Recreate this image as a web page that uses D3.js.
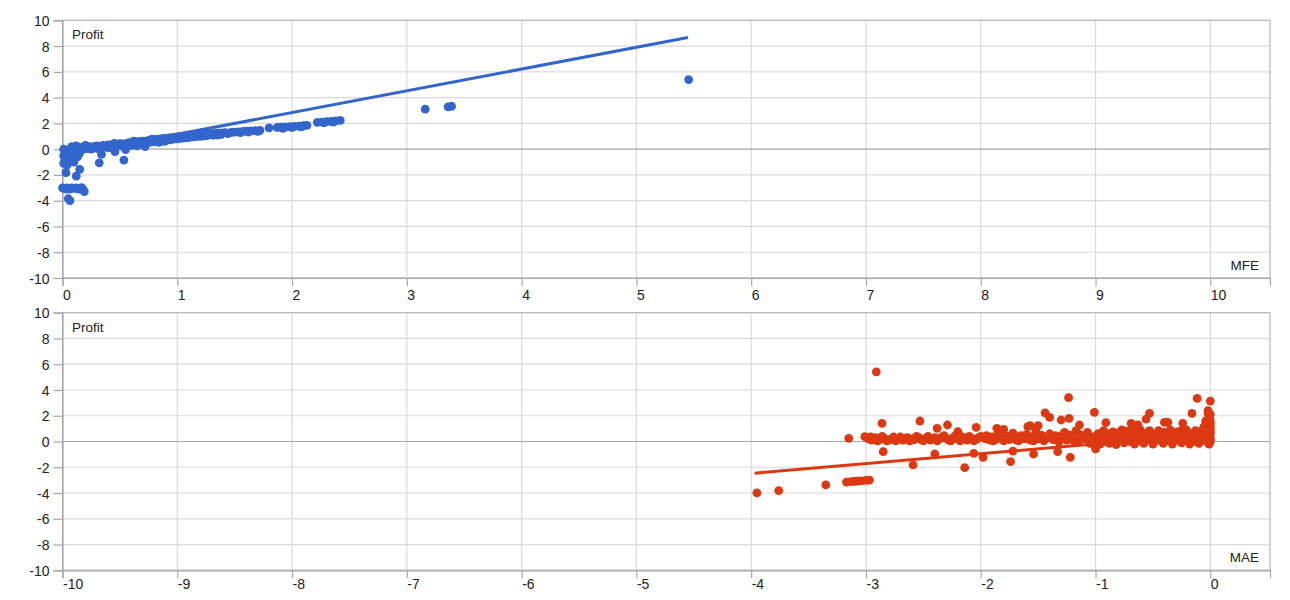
<!DOCTYPE html>
<html>
<head>
<meta charset="utf-8">
<script src="https://cdn.jsdelivr.net/npm/d3@7"></script>
<style>
  html, body { margin: 0; padding: 0; background: #fff; }
  svg { display: block; font-family: "Liberation Sans", Arial, sans-serif; }
</style>
</head>
<body>
<svg id="chart" width="1290" height="600"></svg>
<script>
// ---------------- DATA ----------------
const yTicks = [-10, -8, -6, -4, -2, 0, 2, 4, 6, 8, 10];
const mfeTicks = [0, 1, 2, 3, 4, 5, 6, 7, 8, 9, 10];
const maeTicks = [-10, -9, -8, -7, -6, -5, -4, -3, -2, -1, 0];
const yLabel = "Profit";
const mfeLabel = "MFE";
const maeLabel = "MAE";

// [MFE, Profit]
const mfePoints = [
  [0.01,0.0],[0.02,-0.1],[0.03,-0.3],[0.01,-0.5],[0.02,-0.7],[0.03,-0.9],[0.01,-1.1],[0.04,-1.25],
  [0.06,-0.6],[0.05,-0.2],[0.08,-0.4],[0.09,-0.8],[0.1,-1.0],[0.07,0.05],[0.1,0.1],[0.12,-0.2],
  [0.13,-0.6],[0.15,-0.3],[0.03,-1.83],[0.12,-2.1],[0.15,-1.57],[0.32,-1.06],[0.535,-0.85],
  [0.34,-0.41],[0.457,-0.2],[0.55,-0.03],
  [0.0,-3.0],[0.02,-3.05],[0.04,-3.0],[0.06,-3.1],[0.08,-3.0],[0.1,-3.05],[0.12,-3.0],[0.14,-3.1],
  [0.16,-3.0],[0.18,-3.15],[0.19,-3.3],[0.17,-3.0],[0.05,-3.85],[0.065,-4.0],[0.03,-3.1],
  [0.15,0.12],[0.18,0.15],[0.2,0.1],[0.22,0.2],[0.25,0.18],[0.28,0.22],[0.3,0.25],[0.32,0.2],
  [0.35,0.3],[0.38,0.28],[0.4,0.33],[0.43,0.3],[0.46,0.38],[0.48,0.35],[0.5,0.42],[0.53,0.4],
  [0.56,0.45],[0.58,0.5],[0.61,0.52],[0.64,0.56],[0.67,0.6],[0.7,0.63],[0.72,0.6],[0.75,0.68],
  [0.78,0.71],[0.8,0.74],[0.83,0.77],[0.86,0.8],[0.88,0.83],[0.91,0.86],[0.94,0.89],[0.97,0.92],
  [1.0,0.95],[1.03,0.98],[1.06,1.0],[1.09,1.03],[1.12,1.06],[1.15,1.09],[1.18,1.11],[1.21,1.14],
  [1.24,1.16],[1.27,1.18],[1.3,1.2],[1.33,1.22],[1.36,1.24],[1.39,1.26],[1.42,1.28],
  [0.25,0.0],[0.3,0.05],[0.4,0.1],[0.45,0.15],[0.6,0.3],[0.65,0.25],[0.7,0.4],[0.72,0.2],
  [0.85,0.62],[0.9,0.68],[1.0,0.8],[1.1,0.9],[1.2,1.0],[0.2,0.3],[0.12,0.25],[0.08,0.2],
  [0.23,0.05],[0.27,0.1],[0.33,0.12],[0.37,0.18],[0.42,0.2],[0.47,0.22],[0.51,0.26],[0.55,0.3],
  [0.59,0.36],[0.63,0.4],[0.68,0.45],[0.74,0.5],[0.77,0.55],[0.81,0.58],[0.84,0.52],[0.89,0.6],
  [0.93,0.72],[0.96,0.76],[1.02,0.84],[1.05,0.86],[1.08,0.9],[1.13,0.95],[1.16,0.97],[1.23,1.02],
  [1.26,1.05],[1.31,1.08],[1.35,1.1],[1.38,1.13],[1.44,1.2],[0.45,0.45],[0.62,0.62],[0.78,0.78],
  [1.47,1.3],[1.5,1.32],[1.53,1.34],[1.57,1.37],[1.6,1.39],[1.64,1.41],[1.68,1.43],[1.72,1.45],
  [1.55,1.28],[1.62,1.33],[1.7,1.38],
  [1.8,1.65],[1.87,1.68],[1.9,1.7],[1.94,1.72],[1.98,1.74],[2.02,1.76],[2.06,1.79],[2.1,1.82],
  [2.13,1.85],[1.92,1.62],[2.0,1.68],[2.08,1.73],
  [2.22,2.08],[2.26,2.1],[2.3,2.13],[2.34,2.16],[2.38,2.2],[2.42,2.23],[2.28,2.05],[2.36,2.1],
  [3.16,3.1],[3.36,3.28],[3.39,3.33],[5.455,5.4]
];
const mfeTrend = [[0, -0.53], [5.45, 8.66]];

// [MAE, Profit]
const maePoints = [
  [-3.95,-3.99],[-3.76,-3.81],[-3.35,-3.37],[-3.17,-3.15],[-3.13,-3.12],[-3.1,-3.1],[-3.07,-3.08],
  [-3.04,-3.05],[-3.0,-3.02],[-2.97,-3.0],[-3.15,0.25],[-2.91,5.41],[-2.86,1.41],[-2.85,-0.79],[-3.01,0.37],
  [-2.98,0.2],[-2.95,0.1],[-2.92,0.3],[-2.88,0.15],[-2.84,0.25],[-2.8,0.1],[-2.76,0.35],[-2.72,0.2],
  [-2.68,0.1],[-2.64,0.3],[-2.6,0.2],[-2.56,0.4],[-2.52,0.15],[-2.48,0.25],[-2.44,0.1],[-2.4,0.3],
  [-2.36,0.2],[-2.32,0.45],[-2.28,0.1],[-2.24,0.3],[-2.2,0.2],[-2.16,0.35],[-2.12,0.1],[-2.08,0.25],
  [-2.04,0.15],[-2.0,0.4],
  [-2.96,0.35],[-2.9,0.05],[-2.86,0.4],[-2.82,0.05],[-2.78,0.2],[-2.74,0.05],[-2.7,0.35],[-2.66,0.25],
  [-2.62,0.05],[-2.58,0.15],[-2.54,0.3],[-2.5,0.05],[-2.46,0.4],[-2.42,0.2],[-2.38,0.05],[-2.34,0.35],
  [-2.3,0.25],[-2.26,0.05],[-2.22,0.45],[-2.18,0.05],[-2.14,0.25],[-2.1,0.4],[-2.06,0.05],[-2.02,0.3],
  [-2.59,-1.82],[-2.53,1.59],[-2.40,-0.97],[-2.38,1.02],[-2.29,1.28],[-2.14,-2.03],[-2.2,0.76],
  [-2.04,1.1],[-2.06,-0.92],[-1.98,-1.23],[-1.72,-0.74],[-1.74,-1.56],[-1.86,1.02],[-1.80,0.94],[-1.59,1.15],
  [-1.44,2.23],[-1.40,1.87],[-1.235,3.40],[-1.23,1.80],[-1.30,1.67],[-1.22,-1.23],[-1.33,-0.79],
  [-1.54,-0.97],[-1.57,1.23],[-1.50,1.23],[-1.14,1.28],[-1.01,2.26],[-0.91,1.46],[-1.00,-0.58],
  [-0.69,1.41],[-0.63,1.28],[-0.53,2.18],[-0.56,1.74],[-0.40,1.49],[-0.37,1.49],[-0.24,1.41],
  [-0.16,2.18],[-0.115,3.35],[0.0,3.14],[-0.02,2.4],[0.0,2.1],[-0.01,1.8],[-0.03,1.5],[0.0,1.2],
  [0.0,1.4],[0.0,1.65],[-0.01,1.95],[-0.02,2.2],[-0.03,1.3],[-0.05,1.2],[-0.04,1.6],[-0.06,1.05],
  [-1.96,0.2],[-1.95,0.45],[-1.92,0.1],[-1.9,0.35],[-1.87,0.15],[-1.85,0.55],[-1.82,0.25],[-1.8,0.05],
  [-1.77,0.4],[-1.75,0.15],[-1.72,0.65],[-1.7,0.3],[-1.67,0.05],[-1.65,0.45],[-1.62,0.2],[-1.6,0.55],
  [-1.57,0.1],[-1.55,0.35],[-1.52,0.75],[-1.5,0.2],[-1.47,0.5],[-1.45,0.05],[-1.42,0.3],[-1.4,0.6],
  [-1.37,0.15],[-1.35,0.45],[-1.32,-0.05],[-1.3,0.3],[-1.27,0.7],[-1.25,0.1],[-1.22,0.5],[-1.2,0.2],
  [-1.17,0.85],[-1.15,0.0],[-1.12,0.4],[-1.1,0.2],[-1.07,0.7],[-1.05,-0.15],[-1.02,0.35],
  [-1.94,0.3],[-1.89,0.05],[-1.84,0.4],[-1.79,0.2],[-1.74,0.35],[-1.69,0.1],[-1.64,0.25],[-1.59,0.35],
  [-1.54,0.05],[-1.49,0.4],[-1.44,0.2],[-1.39,0.35],[-1.34,0.15],[-1.29,0.5],[-1.24,0.3],[-1.19,0.05],
  [-1.14,0.55],[-1.09,0.45],[-1.04,0.15],
  [-0.99,0.1],[-0.98,0.6],[-0.96,-0.2],[-0.95,0.3],[-0.93,0.85],[-0.92,0.0],[-0.9,0.5],[-0.88,-0.15],
  [-0.87,0.2],[-0.85,0.75],[-0.83,0.4],[-0.82,-0.25],[-0.8,0.1],[-0.78,0.6],[-0.77,0.9],[-0.75,-0.1],
  [-0.73,0.3],[-0.72,0.8],[-0.7,0.0],[-0.68,0.5],[-0.66,-0.2],[-0.65,0.2],[-0.63,0.7],[-0.61,0.9],
  [-0.6,0.4],[-0.58,-0.15],[-0.56,0.1],[-0.55,0.6],[-0.53,0.85],[-0.51,0.3],[-0.5,-0.2],[-0.48,0.0],
  [-0.46,0.5],[-0.45,0.85],[-0.43,0.2],[-0.41,-0.15],[-0.4,0.7],[-0.38,0.4],[-0.36,0.05],[-0.35,0.9],
  [-0.33,-0.2],[-0.31,0.3],[-0.3,0.6],[-0.28,0.1],[-0.26,0.8],[-0.25,-0.1],[-0.23,0.45],[-0.21,0.9],
  [-0.2,0.2],[-0.18,-0.2],[-0.16,0.6],[-0.15,0.0],[-0.13,0.85],[-0.11,0.35],[-0.1,-0.15],[-0.08,0.7],
  [-0.06,0.1],[-0.05,0.95],[-0.03,0.5],[-0.02,-0.1],[-0.01,0.8],[0.0,0.3],[0.0,0.0],[0.0,0.6],
  [0.0,0.95],[-0.01,-0.2],
  [-0.97,0.45],[-0.94,0.15],[-0.91,0.65],[-0.89,0.35],[-0.86,0.05],[-0.84,0.55],[-0.81,0.3],[-0.79,0.75],
  [-0.76,0.45],[-0.74,0.15],[-0.71,0.55],[-0.69,0.25],[-0.67,0.8],[-0.64,0.45],[-0.62,0.05],[-0.59,0.65],
  [-0.57,0.35],[-0.54,0.15],[-0.52,0.7],[-0.49,0.45],[-0.47,0.2],[-0.44,0.6],[-0.42,0.35],[-0.39,0.15],
  [-0.37,0.65],[-0.34,0.45],[-0.32,0.1],[-0.29,0.75],[-0.27,0.4],[-0.24,0.15],[-0.22,0.65],[-0.19,0.4],
  [-0.17,0.1],[-0.14,0.5],[-0.12,0.25],[-0.09,0.45],[-0.07,0.85],[-0.04,0.25],[-0.02,0.7],[-0.01,0.45],
  [0.0,0.15],[0.0,0.8],[-0.02,1.05]
];
const maeTrend = [[-3.97, -2.46], [0, 0.58]];

// ---------------- DRAW ----------------
const svg = d3.select("#chart");
svg.append("rect").attr("width", 1290).attr("height", 600).attr("fill", "#fff");

const left = 62.5, right = 1270;
const FONT = "'Liberation Sans', Arial, sans-serif";

function panel(opts) {
  const { top, bottom, xDomain, xTicks, points, trend, color, xLabel, xLabelOffset } = opts;
  const x = d3.scaleLinear().domain(xDomain).range([left, right]);
  const y = d3.scaleLinear().domain([-10, 10]).range([bottom, top]);
  const g = svg.append("g");

  // grid
  g.append("g").selectAll("line").data(xTicks).join("line")
    .attr("x1", d => x(d)).attr("x2", d => x(d))
    .attr("y1", top).attr("y2", bottom)
    .attr("stroke", "#dadada").attr("stroke-width", 1.2);
  g.append("g").selectAll("line").data(yTicks).join("line")
    .attr("x1", left).attr("x2", right)
    .attr("y1", d => y(d)).attr("y2", d => y(d))
    .attr("stroke", d => d === 0 ? "#a6a6a6" : "#dadada").attr("stroke-width", 1.2);

  // frame
  g.append("rect").attr("x", left).attr("y", top)
    .attr("width", right - left).attr("height", bottom - top)
    .attr("fill", "none").attr("stroke", "#b7b7b7").attr("stroke-width", 1.2);

  // axes
  const fmt = d => String(d);
  const yAxis = d3.axisLeft(y).tickValues(yTicks).tickSize(9).tickPadding(4).tickFormat(fmt);
  const ya = g.append("g").attr("transform", `translate(${left},0)`).call(yAxis);
  const xAxis = d3.axisBottom(x).tickValues(xTicks).tickSize(8).tickPadding(0).tickFormat(fmt);
  const xa = g.append("g").attr("transform", `translate(0,${bottom})`).call(xAxis);
  [ya, xa].forEach(a => {
    a.select(".domain").attr("stroke", "#a6a6a6").attr("stroke-width", 1.2);
    a.selectAll(".tick line").attr("stroke", "#a6a6a6").attr("stroke-width", 1.2);
    a.selectAll(".tick text").attr("fill", "#222").attr("font-size", 14)
      .attr("font-family", FONT);
  });
  ya.selectAll(".tick text").attr("dy", "0.36em");
  xa.selectAll(".tick text").attr("text-anchor", "start").attr("x", 0)
    .attr("y", xLabelOffset).attr("dy", "0.36em");

  // labels
  g.append("text").attr("x", left + 9.5).attr("y", top + 19)
    .attr("font-size", 13.5).attr("font-family", FONT).attr("fill", "#222").text(yLabel);
  g.append("text").attr("x", right - 11).attr("y", bottom - 8)
    .attr("text-anchor", "end").attr("font-size", 13.5).attr("font-family", FONT)
    .attr("fill", "#222").text(xLabel);

  // trendline
  g.append("path").datum(trend)
    .attr("d", d3.line().x(d => x(d[0])).y(d => y(d[1])))
    .attr("fill", "none").attr("stroke", color).attr("stroke-width", 3);

  // points
  g.append("g").selectAll("circle").data(points).join("circle")
    .attr("cx", d => x(d[0])).attr("cy", d => y(d[1]))
    .attr("r", 4.4).attr("fill", color);
}

panel({ top: 20.3, bottom: 278, xDomain: [0, 10.52], xTicks: mfeTicks,
  points: mfePoints, trend: mfeTrend, color: "#3366cc", xLabel: mfeLabel, xLabelOffset: 17 });
panel({ top: 312.7, bottom: 570.3, xDomain: [-10, 0.52], xTicks: maeTicks,
  points: maePoints, trend: maeTrend, color: "#dc3912", xLabel: maeLabel, xLabelOffset: 14 });
</script>
</body>
</html>
